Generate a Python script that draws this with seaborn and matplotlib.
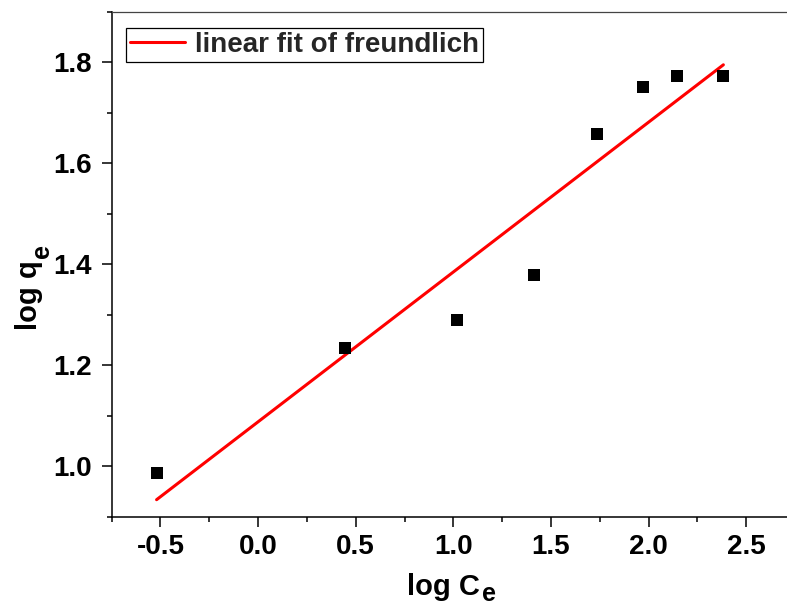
import numpy as np
import pandas as pd
import matplotlib
matplotlib.use("Agg")
import matplotlib.pyplot as plt
from matplotlib.ticker import MultipleLocator
import seaborn as sns

# Data
log_ce = [-0.52, 0.446, 1.018, 1.411, 1.734, 1.973, 2.147, 2.383]
log_qe = [0.987, 1.235, 1.291, 1.379, 1.659, 1.751, 1.774, 1.774]
fit_label = "linear fit of freundlich"
x_ticks = [-0.5, 0.0, 0.5, 1.0, 1.5, 2.0, 2.5]
y_ticks = [1.0, 1.2, 1.4, 1.6, 1.8]

df = pd.DataFrame({"log_ce": log_ce, "log_qe": log_qe})

sns.set_theme(style="ticks")
plt.rcParams["font.family"] = ["Liberation Sans", "DejaVu Sans"]
plt.rcParams["font.weight"] = "bold"

W, H = 787, 608
fig = plt.figure(figsize=(W / 100, H / 100), dpi=100)
ax = fig.add_axes([0.1419, 0.1497, 0.8683, 0.8306])

sns.scatterplot(data=df, x="log_ce", y="log_qe", marker="s", color="black",
                s=70, linewidth=0, ax=ax, zorder=3)
sns.regplot(data=df, x="log_ce", y="log_qe", scatter=False, ci=None,
            truncate=True, color="red", ax=ax,
            line_kws={"lw": 2.2, "zorder": 2})
fit_line = ax.lines[-1]

ax.set_xlim(-0.75, 2.75)
ax.set_ylim(0.9, 1.9)
ax.set_xticks(x_ticks)
ax.set_yticks(y_ticks)
ax.set_xticklabels([f"{v:.1f}" for v in x_ticks])
ax.set_yticklabels([f"{v:.1f}" for v in y_ticks])
ax.xaxis.set_minor_locator(MultipleLocator(0.25))
ax.yaxis.set_minor_locator(MultipleLocator(0.1))
ax.tick_params(which="major", direction="out", length=7.2, width=1.1,
               labelsize=20, pad=5, colors="black")
ax.tick_params(axis="y", which="major", pad=7)
ax.tick_params(which="minor", direction="out", length=3.6, width=1.1,
               colors="black")
for lbl in ax.get_xticklabels() + ax.get_yticklabels():
    lbl.set_fontweight("bold")

for side in ["left", "bottom", "top", "right"]:
    ax.spines[side].set_visible(True)
    ax.spines[side].set_color("black")
    ax.spines[side].set_linewidth(1.1)
ax.spines["top"].set_color("#444444")
ax.spines["top"].set_linewidth(0.9)

ax.set_xlabel("log C", fontsize=21, fontweight="bold", color="black")
ax.set_ylabel("log q", fontsize=21, fontweight="bold", color="black")
ax.xaxis.set_label_coords(0.485, -0.11)
ax.xaxis.label.set_va("top")
ax.yaxis.set_label_coords(-0.10, 0.44)

leg = ax.legend([fit_line], [fit_label], loc="upper left",
                bbox_to_anchor=(0.0205, 0.969), borderaxespad=0,
                prop={"weight": "bold", "size": 20}, frameon=True,
                fancybox=False, framealpha=1, edgecolor="black",
                handlelength=2.0, handletextpad=0.35, borderpad=0.15)
leg.get_frame().set_linewidth(0.9)

# subscripts "e" placed next to the axis labels
fig.canvas.draw()
r = fig.canvas.get_renderer()
xb = ax.xaxis.label.get_window_extent(r)
yb = ax.yaxis.label.get_window_extent(r)
desc = 0.21 * 21 * 100 / 72
fig.text((xb.x1 + 2) / W, (xb.y0 + desc - 7) / H, "e", fontsize=18,
         fontweight="bold", ha="left", va="baseline", color="black")
fig.text((yb.x1 - desc + 12) / W, (yb.y1 + 2) / H, "e", fontsize=18,
         fontweight="bold", ha="left", va="baseline", rotation=90,
         rotation_mode="anchor", color="black")

fig.savefig("out.png", dpi=100)
